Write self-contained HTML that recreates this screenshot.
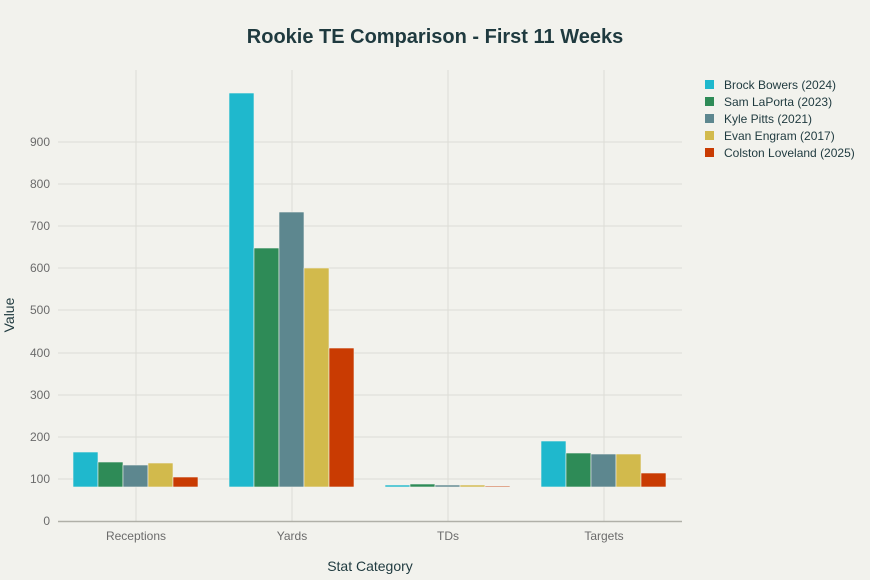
<!DOCTYPE html>
<html><head><meta charset="utf-8"><style>
body{margin:0;background:#f2f2ed;}
svg{display:block;font-family:"Liberation Sans",sans-serif;}
</style></head><body>
<svg width="870" height="580" viewBox="0 0 870 580">
<rect width="870" height="580" fill="#f2f2ed"/>
<text x="435" y="43" text-anchor="middle" font-size="20" font-weight="bold" fill="#1f3a3f">Rookie TE Comparison - First 11 Weeks</text>
<g stroke="#dcdcd6" stroke-width="1">
<line x1="58" x2="682" y1="479" y2="479"/><line x1="58" x2="682" y1="437" y2="437"/>
<line x1="58" x2="682" y1="395" y2="395"/><line x1="58" x2="682" y1="353" y2="353"/>
<line x1="58" x2="682" y1="310" y2="310"/><line x1="58" x2="682" y1="268" y2="268"/>
<line x1="58" x2="682" y1="226" y2="226"/><line x1="58" x2="682" y1="184" y2="184"/>
<line x1="58" x2="682" y1="142" y2="142"/>
<line x1="136" x2="136" y1="70" y2="521"/><line x1="292" x2="292" y1="70" y2="521"/>
<line x1="448" x2="448" y1="70" y2="521"/><line x1="604" x2="604" y1="70" y2="521"/>
</g>
<line x1="58" x2="682" y1="521.5" y2="521.5" stroke="#b0b0a8" stroke-width="1.5"/>
<g font-size="12" fill="#6b6b6b" text-anchor="end">
<text x="50" y="525">0</text><text x="50" y="483">100</text><text x="50" y="441">200</text>
<text x="50" y="399">300</text><text x="50" y="357">400</text><text x="50" y="314">500</text>
<text x="50" y="272">600</text><text x="50" y="230">700</text><text x="50" y="188">800</text>
<text x="50" y="146">900</text>
</g>
<g font-size="12" fill="#6b6b6b" text-anchor="middle">
<text x="136" y="540">Receptions</text><text x="292" y="540">Yards</text>
<text x="448" y="540">TDs</text><text x="604" y="540">Targets</text>
</g>
<text x="370" y="571" text-anchor="middle" font-size="14" fill="#1f3a3f">Stat Category</text>
<text transform="translate(14,315) rotate(-90)" text-anchor="middle" font-size="14" fill="#1f3a3f">Value</text>
<g stroke="#f2f2ed" stroke-width="0.6">
<rect x="73" y="452" width="25" height="35" fill="#1fb8cd"/>
<rect x="98" y="462" width="25" height="25" fill="#2e8b57"/>
<rect x="123" y="465" width="25" height="22" fill="#5d878f"/>
<rect x="148" y="463" width="25" height="24" fill="#d2ba4c"/>
<rect x="173" y="477" width="25" height="10" fill="#c93b02"/>
<rect x="229" y="93" width="25" height="394" fill="#1fb8cd"/>
<rect x="254" y="248" width="25" height="239" fill="#2e8b57"/>
<rect x="279" y="212" width="25" height="275" fill="#5d878f"/>
<rect x="304" y="268" width="25" height="219" fill="#d2ba4c"/>
<rect x="329" y="348" width="25" height="139" fill="#c93b02"/>
<rect x="385" y="485" width="25" height="2" fill="#1fb8cd"/>
<rect x="410" y="484" width="25" height="3" fill="#2e8b57"/>
<rect x="435" y="485" width="25" height="2" fill="#5d878f"/>
<rect x="460" y="485" width="25" height="2" fill="#d2ba4c"/>
<rect x="485" y="486" width="25" height="1" fill="#c93b02"/>
<rect x="541" y="441" width="25" height="46" fill="#1fb8cd"/>
<rect x="566" y="453" width="25" height="34" fill="#2e8b57"/>
<rect x="591" y="454" width="25" height="33" fill="#5d878f"/>
<rect x="616" y="454" width="25" height="33" fill="#d2ba4c"/>
<rect x="641" y="473" width="25" height="14" fill="#c93b02"/>
</g>
<g font-size="12" fill="#1f3a3f">
<rect x="705" y="80" width="9" height="9" fill="#1fb8cd"/><text x="724" y="89">Brock Bowers (2024)</text>
<rect x="705" y="97" width="9" height="9" fill="#2e8b57"/><text x="724" y="106">Sam LaPorta (2023)</text>
<rect x="705" y="114" width="9" height="9" fill="#5d878f"/><text x="724" y="123">Kyle Pitts (2021)</text>
<rect x="705" y="131" width="9" height="9" fill="#d2ba4c"/><text x="724" y="140">Evan Engram (2017)</text>
<rect x="705" y="148" width="9" height="9" fill="#c93b02"/><text x="724" y="157">Colston Loveland (2025)</text>
</g>
</svg>
</body></html>
